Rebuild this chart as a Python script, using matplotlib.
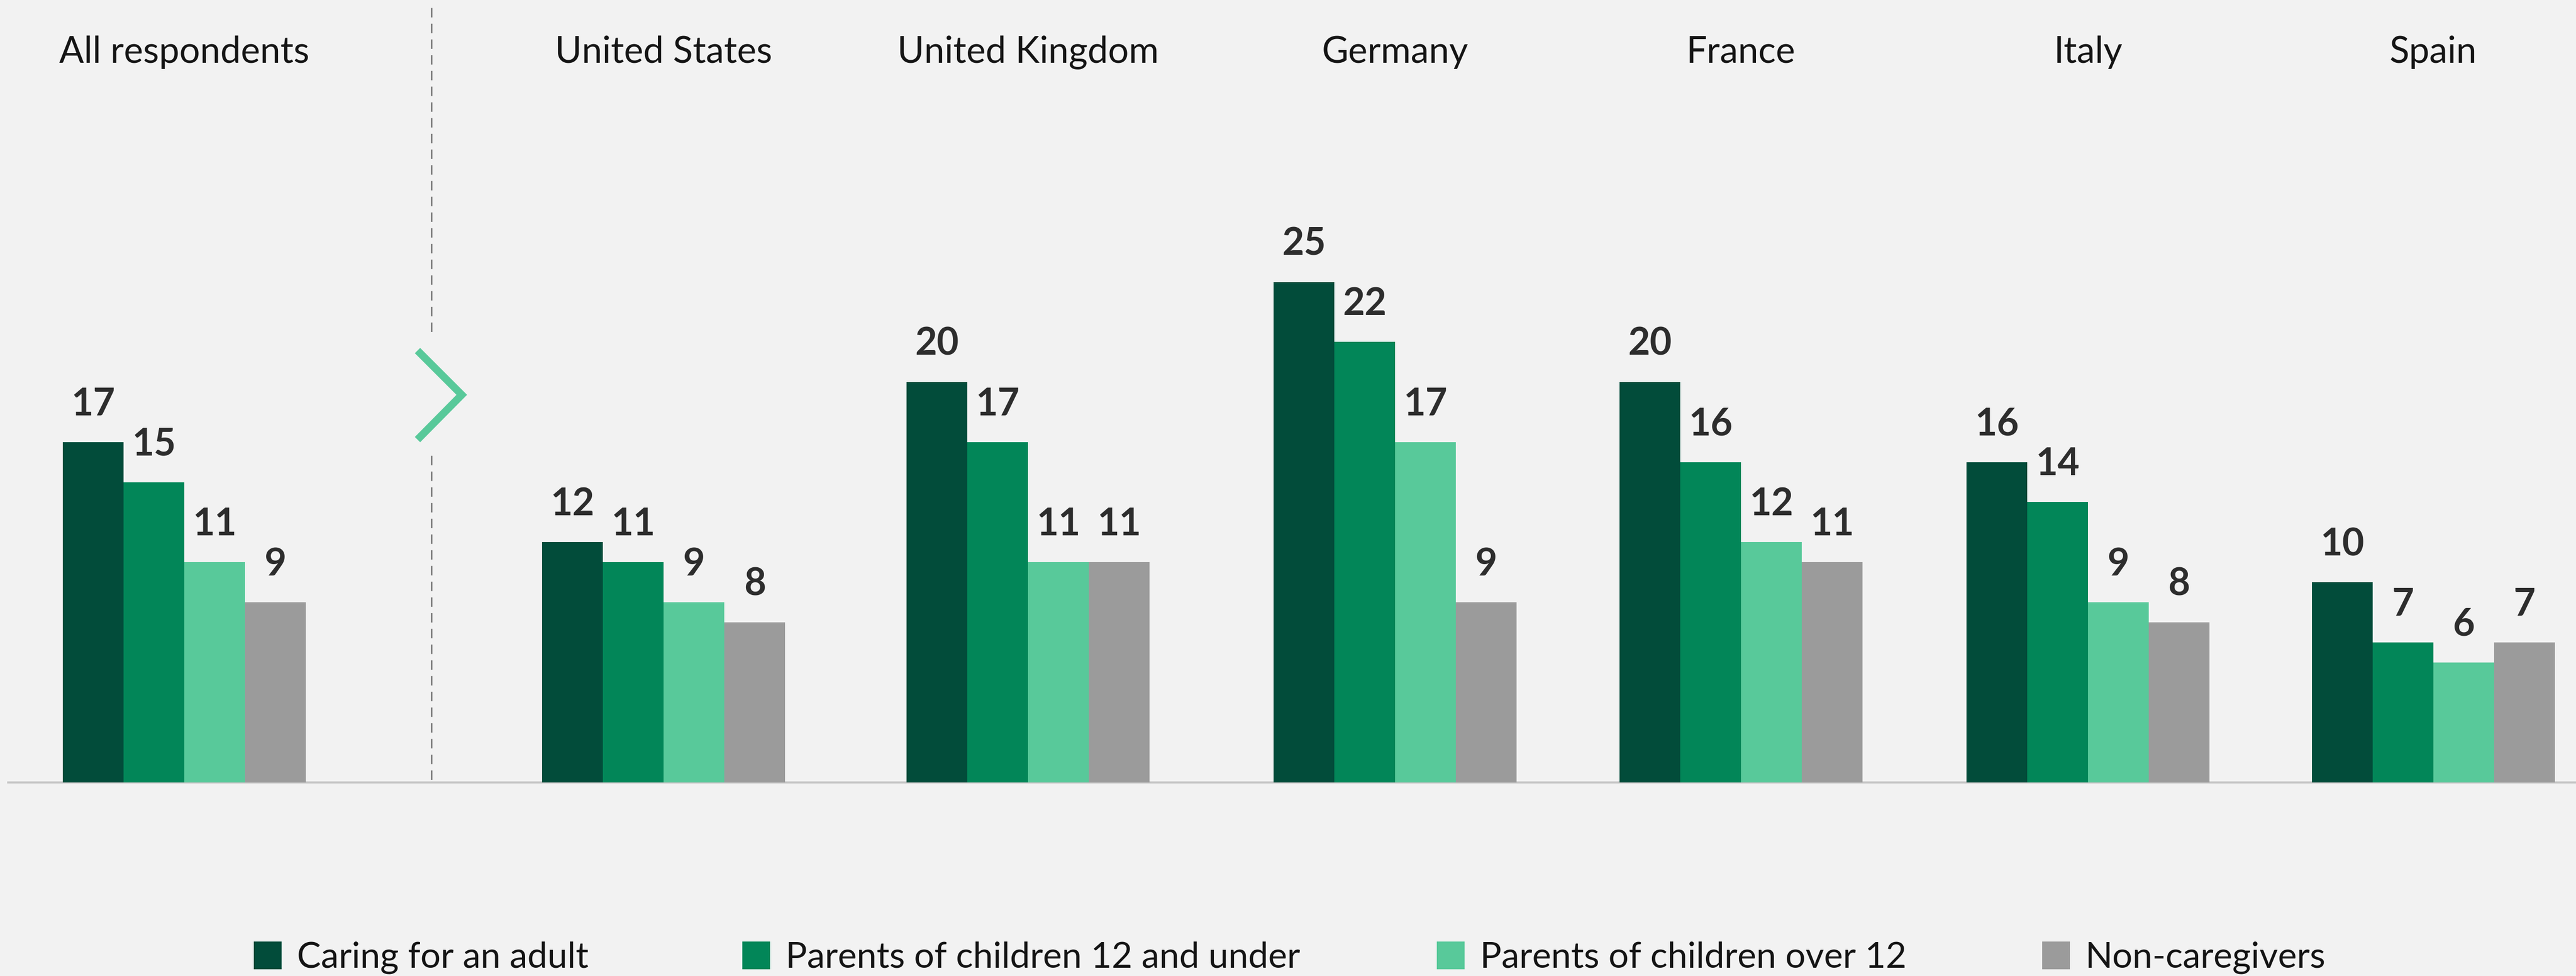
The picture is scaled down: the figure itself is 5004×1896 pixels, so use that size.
import matplotlib
matplotlib.use("Agg")
from matplotlib import pyplot as plt
from matplotlib.patches import Rectangle

# %% data

groups = ["All respondents", "United States", "United Kingdom", "Germany",
          "France", "Italy", "Spain"]
caring_adult = [17, 12, 20, 25, 20, 16, 10]
parents_under_12 = [15, 11, 17, 22, 16, 14, 7]
parents_over_12 = [11, 9, 11, 17, 12, 9, 6]
non_caregivers = [9, 8, 11, 9, 11, 8, 7]

series_names = ["Caring for an adult", "Parents of children 12 and under",
                "Parents of children over 12", "Non-caregivers"]
series = [caring_adult, parents_under_12, parents_over_12, non_caregivers]
colors = ["#024c3a", "#028658", "#58c99a", "#9b9b9b"]

# %% layout (pixel units, y measured from top)

W, H = 5004, 1896
BASE = 1520          # baseline row
UNIT = 38.9          # pixels per percentage point
group_left = [122, 1053, 1761, 2474, 3146, 3820, 4491]
bar_w = 118
legend_x = [493, 1442, 2791, 3967]

bg = "#f2f2f2"
title_font = dict(family=["Lato", "DejaVu Sans"], weight="normal", size=51,
                  color="#141414")
legend_font = dict(title_font, size=50)
label_font = dict(family=["Lato", "DejaVu Sans"], weight="bold", size=53,
                  color="#2d2d2d")


def ypx(p):
    return (BASE - p) / UNIT


fig = plt.figure(figsize=(W / 100, H / 100), dpi=100, facecolor=bg)
ax = fig.add_axes([0, 0, 1, 1])
ax.set_facecolor(bg)
ax.set_xlim(0, W)
ax.set_ylim(ypx(H), ypx(0))
ax.axis("off")

# baseline
ax.plot([14, W], [0, 0], color="#c4c4c4", lw=2.9, zorder=1,
        solid_capstyle="butt")

for k, (vals, col) in enumerate(zip(series, colors)):
    xs = [g + k * bar_w for g in group_left]
    ax.bar(xs, vals, width=bar_w, align="edge", color=col, lw=0, zorder=2)
    for x, v in zip(xs, vals):
        ax.text(x + bar_w / 2, v + 52 / UNIT, str(v), ha="center",
                va="baseline", **label_font)

for g, name in zip(group_left, groups):
    ax.text(g + 2 * bar_w, ypx(122), name, ha="center", va="baseline",
            **title_font)

# divider between the total and the countries
ax.plot([838, 838], [ypx(15), ypx(649)], color="#808080", lw=2.2,
        ls=(0, (6, 4)), zorder=1)
ax.plot([838, 838], [ypx(885), ypx(BASE)], color="#808080", lw=2.2,
        ls=(0, (6, 4)), zorder=1)
ax.plot([811, 897, 811], [ypx(681), ypx(767), ypx(854)], color="#58c99a",
        lw=10.5, solid_joinstyle="miter", solid_capstyle="butt", zorder=3)

# legend
for x, name, col in zip(legend_x, series_names, colors):
    ax.add_patch(Rectangle((x, ypx(1883)), 54, 54 / UNIT, color=col, lw=0))
    ax.text(x + 84, ypx(1879), name, ha="left", va="baseline", **legend_font)

fig.savefig("out.png", dpi=100, facecolor=bg)
